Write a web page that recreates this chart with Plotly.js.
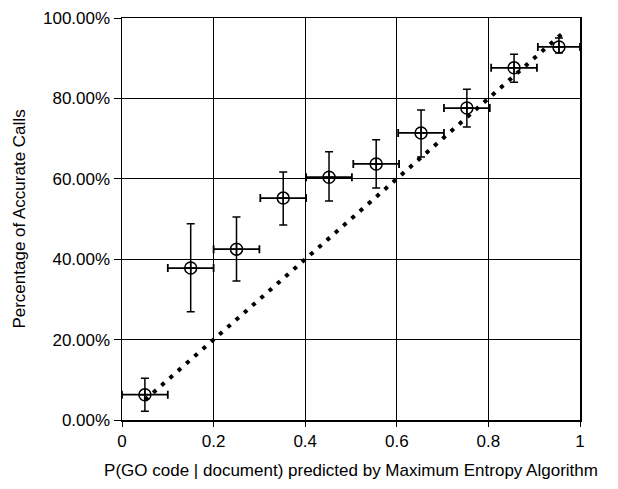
<!DOCTYPE html>
<html>
<head>
<meta charset="utf-8">
<script src="https://cdn.plot.ly/plotly-3.0.1.min.js"></script>
<style>html,body{margin:0;padding:0;background:#fff;}#chart{width:618px;height:489px;}</style>
</head>
<body>
<div id="chart"></div>
<script>
// Predicted probability bins (x) and observed accuracy (y)
var probX = [0.05, 0.15, 0.25, 0.352, 0.452, 0.555, 0.653, 0.753, 0.856, 0.954];
var accuracyY = [0.063, 0.378, 0.425, 0.552, 0.604, 0.637, 0.714, 0.776, 0.876, 0.928];
var errTop = [0.104, 0.488, 0.505, 0.617, 0.667, 0.697, 0.771, 0.823, 0.910, 0.950];
var errBottom = [0.022, 0.269, 0.346, 0.485, 0.545, 0.577, 0.654, 0.729, 0.840, 0.913];
var xErr = [0.05, 0.05, 0.05, 0.05, 0.05, 0.05, 0.05, 0.05, 0.05, 0.046];
// Perfect-calibration diagonal
var diagX = [0.05, 0.96];
var diagY = [0.05, 0.96];
var yTickVals = [0, 0.2, 0.4, 0.6, 0.8, 1.0];
var xTickVals = [0, 0.2, 0.4, 0.6, 0.8, 1];
var xTickText = ['0', '0.2', '0.4', '0.6', '0.8', '1'];

var plus = accuracyY.map(function(v, i){ return errTop[i] - v; });
var minus = accuracyY.map(function(v, i){ return v - errBottom[i]; });

var traces = [
  {
    x: diagX, y: diagY, mode: 'lines', type: 'scatter',
    line: {color: '#000', width: 4, dash: '4px,7px'},
    hoverinfo: 'skip', showlegend: false
  },
  {
    x: probX, y: accuracyY, mode: 'markers', type: 'scatter',
    marker: {symbol: 'circle-cross-open', size: 12, color: '#000', line: {width: 1.5, color: '#000'}},
    error_y: {type: 'data', symmetric: false, array: plus, arrayminus: minus, color: '#000', thickness: 1.5, width: 4},
    error_x: {type: 'data', array: xErr, color: '#000', thickness: 1.8, width: 4},
    showlegend: false
  }
];

var fontFam = 'Liberation Sans, Arial, Helvetica, sans-serif';
var layout = {
  width: 618, height: 489,
  margin: {l: 122, r: 38, t: 18, b: 69},
  paper_bgcolor: '#fff', plot_bgcolor: '#fff',
  showlegend: false,
  font: {family: fontFam, size: 17, color: '#000'},
  xaxis: {
    range: [0, 1], tickvals: xTickVals, ticktext: xTickText,
    showgrid: true, gridcolor: '#000', gridwidth: 1,
    zeroline: false, showline: true, linecolor: '#000', linewidth: 1.5, mirror: true,
    ticks: 'outside', ticklen: 5, tickcolor: '#000',
    tickfont: {family: fontFam, size: 17, color: '#000'},
    title: {text: 'P(GO code | document) predicted by Maximum Entropy Algorithm', font: {family: fontFam, size: 17, color: '#000'}, standoff: 14}
  },
  yaxis: {
    range: [0, 1], tickvals: yTickVals, tickformat: '.2%',
    showgrid: true, gridcolor: '#000', gridwidth: 1,
    zeroline: false, showline: true, linecolor: '#000', linewidth: 1.5, mirror: true,
    ticks: 'outside', ticklen: 7, tickcolor: '#000',
    tickfont: {family: fontFam, size: 17, color: '#000'},
    title: {text: 'Percentage of Accurate Calls', font: {family: fontFam, size: 17, color: '#000'}, standoff: 13}
  }
};

Plotly.newPlot('chart', traces, layout, {displayModeBar: false, staticPlot: true});
</script>
</body>
</html>
